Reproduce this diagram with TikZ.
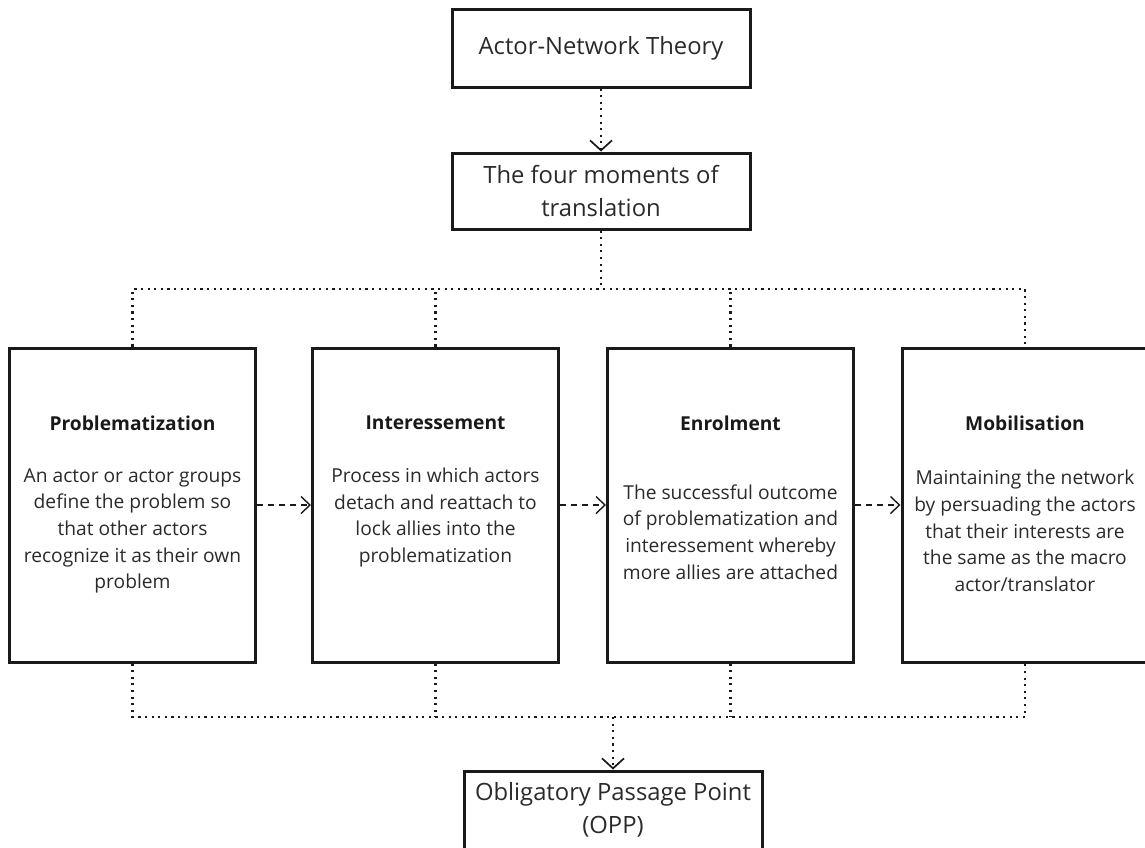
\documentclass[tikz,border=0pt]{standalone}
\usepackage{fontspec}
\setmainfont{Open Sans}
\usetikzlibrary{arrows.meta}

\definecolor{inkline}{HTML}{1A1A1A}
\definecolor{inktext}{HTML}{2A2A2A}

\tikzset{
  headbox/.style={draw=inkline, line width=3pt, align=center, inner sep=0pt,
    minimum width=298pt, text=inktext, font=\fontsize{23.8}{33}\selectfont},
  phase/.style={draw=inkline, line width=3pt, minimum width=246pt,
    minimum height=314pt, inner sep=0pt},
  phasetitle/.style={font=\bfseries\fontsize{19.2}{26.7}\selectfont, text=black!90},
  phasetext/.style={align=center, text=inktext, font=\fontsize{19.2}{26.7}\selectfont},
  dotline/.style={draw=inkline, line width=2.1pt, dash pattern=on 2.1pt off 4.5pt},
  dotarrow/.style={dotline, -{Straight Barb[length=10pt,width=22pt,line width=1.7pt]}},
  dasharrow/.style={draw=inkline, line width=1.3pt, dash pattern=on 6pt off 5pt,
    -{Straight Barb[length=9pt,width=17pt,line width=1.4pt]}}
}

\begin{document}
\begin{tikzpicture}[x=1pt,y=-1pt]
  \useasboundingbox (0,0) rectangle (1145,847);

  \node[headbox, minimum height=78pt] (ant) at (601,48) {Actor-Network Theory};
  \node[headbox, minimum height=76pt] (moments) at (601,191) {The four moments of\\translation};

  \node[phase] (prob) at (132.5,505) {};
  \node[phase] (inter) at (435.5,505) {};
  \node[phase] (enrol) at (730.5,505) {};
  \node[phase] (mobil) at (1025,505) {};

  \node[phasetitle] (probT) at (132.5,423) {Problematization};
  \node[phasetitle] (interT) at (435.5,423) {Interessement};
  \node[phasetitle] (enrolT) at (730.5,423) {Enrolment};
  \node[phasetitle] (mobilT) at (1025,423) {Mobilisation};

  \node[phasetext] (probX) at (132.5,531) {An actor or actor groups\\define the problem so\\that other actors\\recognize it as their own\\problem};
  \node[phasetext] (interX) at (435.5,517.5) {Process in which actors\\detach and reattach to\\lock allies into the\\problematization};
  \node[phasetext] (enrolX) at (730.5,532) {The successful outcome\\of problematization and\\interessement whereby\\more allies are attached};
  \node[phasetext] (mobilX) at (1025,531) {Maintaining the network\\by persuading the actors\\that their interests are\\the same as the macro\\actor/translator};

  \node[headbox, minimum height=78pt] (opp) at (613,810) {Obligatory Passage Point\\(OPP)};

  \coordinate (split) at (601,289);
  \coordinate (merge) at (613,717);

  \draw[dotarrow] (ant) to (moments);
  \draw[dotline] (moments) to (split);
  \draw[dotline] (prob.north) -- (prob.north |- split) -- (mobil.north |- split) -- (mobil.north);
  \draw[dotline] (inter.north) -- (inter.north |- split);
  \draw[dotline] (enrol.north) -- (enrol.north |- split);

  \draw[dasharrow] (prob) to (inter);
  \draw[dasharrow] (inter) to (enrol);
  \draw[dasharrow] (enrol) to (mobil);

  \draw[dotline] (prob.south) -- (prob.south |- merge) -- (mobil.south |- merge) -- (mobil.south);
  \draw[dotline] (inter.south) -- (inter.south |- merge);
  \draw[dotline] (enrol.south) -- (enrol.south |- merge);
  \draw[dotarrow] (merge) to (opp);
\end{tikzpicture}
\end{document}
